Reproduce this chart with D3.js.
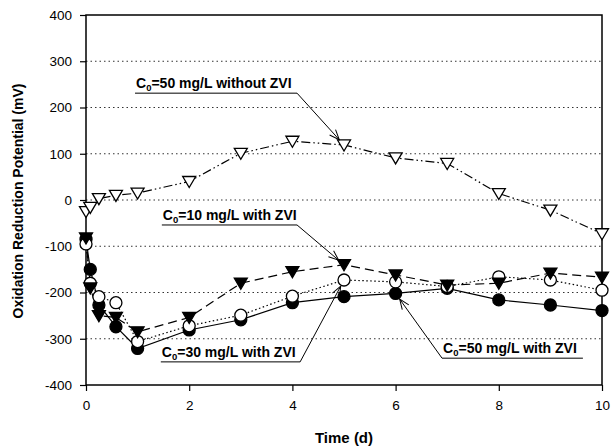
<!DOCTYPE html>
<html>
<head>
<meta charset="utf-8">
<script src="https://cdn.jsdelivr.net/npm/d3@7"></script>
<style>
  body { margin: 0; background: #fff; }
  svg { font-family: "Liberation Sans", Arial, sans-serif; }
</style>
</head>
<body>
<svg id="chart" width="615" height="448"></svg>
<script>
// время отбора проб, сут
const times = [0, 0.083, 0.25, 0.58, 1, 2, 3, 4, 5, 6, 7, 8, 9, 10];

// ОВП, мВ
const noZvi50 = [-25, -16, 3, 10, 15, 40, 101, 127, 119, 91, 79, 14, -22, -73];
const zvi10   = [-82, -190, -250, -254, -285, -254, -180, -155, -140, -162, -184, -180, -158, -167];
const zvi30   = [-95, -180, -209, -222, -306, -272, -249, -208, -173, -177, -187, -166, -173, -195];
const zvi50   = [-85, -150, -227, -274, -321, -281, -259, -222, -209, -202, -191, -216, -227, -239];

const xTicks = [0, 2, 4, 6, 8, 10];
const yTicks = [-400, -300, -200, -100, 0, 100, 200, 300, 400];

// подписи со стрелками: x0..x1 и y - подчеркивание в единицах данных
const notes = [
  {pre: "C", sub: "0", post: "=50 mg/L without ZVI", x0: 0.95, x1: 4.09, y: 231, series: 0, idx: 8, from: "right"},
  {pre: "C", sub: "0", post: "=10 mg/L with ZVI", x0: 1.47, x1: 4.09, y: -54, series: 1, idx: 8, from: "right"},
  {pre: "C", sub: "0", post: "=30 mg/L with ZVI", x0: 1.45, x1: 4.15, y: -350, series: 2, idx: 8, from: "right"},
  {pre: "C", sub: "0", post: "=50 mg/L with ZVI", x0: 6.9, x1: 9.63, y: -342, series: 3, idx: 9, from: "left"}
];

const svg = d3.select("#chart");
const area = {left: 86, right: 602, top: 15, bottom: 385};

const scX = d3.scaleLinear().domain([0, 10]).range([area.left, area.right]);
const scY = d3.scaleLinear().domain([-400, 400]).range([area.bottom, area.top]);

// сетка
svg.append("g")
  .selectAll("line")
  .data(yTicks.filter(d => d > -400 && d < 400))
  .enter()
  .append("line")
  .attr("x1", area.left).attr("x2", area.right)
  .attr("y1", d => scY(d)).attr("y2", d => scY(d))
  .style("stroke", "#333")
  .style("stroke-width", 1)
  .style("stroke-dasharray", "1.5,3");

// оси (обычный дефис, как в оригинале)
const axisX = d3.axisBottom(scX).tickValues(xTicks).tickSize(6).tickPadding(9).tickFormat(d => String(d));
const axisY = d3.axisLeft(scY).tickValues(yTicks).tickSize(6).tickPadding(8).tickFormat(d => String(d));

const gx = svg.append("g").attr("transform", `translate(0, ${area.bottom})`).call(axisX);
const gy = svg.append("g").attr("transform", `translate(${area.left}, 0)`).call(axisY);
[gx, gy].forEach(g => {
  g.select(".domain").remove();
  g.selectAll("line").style("stroke", "#000").style("stroke-width", 1.2);
  g.selectAll("text").style("font-size", "13.5px").style("fill", "#000");
});

// рамка
svg.append("rect")
  .attr("x", area.left).attr("y", area.top)
  .attr("width", area.right - area.left).attr("height", area.bottom - area.top)
  .style("fill", "none").style("stroke", "#000").style("stroke-width", 1.5);

// подписи осей
svg.append("text")
  .attr("x", scX(5)).attr("y", 443)
  .attr("text-anchor", "middle")
  .style("font-size", "15px").style("font-weight", "bold")
  .text("Time (d)");

svg.append("text")
  .attr("transform", "translate(23, 201) rotate(-90)")
  .attr("text-anchor", "middle")
  .style("font-size", "14px").style("font-weight", "bold")
  .text("Oxidation Reduction Potential (mV)");

// серии
const series = [
  {values: noZvi50, dash: "9,3,1.5,3,1.5,3", shape: "triDown", fill: "#fff"},
  {values: zvi10, dash: "9,5", shape: "triDown", fill: "#000"},
  {values: zvi30, dash: "1.5,2.5", shape: "circle", fill: "#fff"},
  {values: zvi50, dash: null, shape: "circle", fill: "#000"}
];

const lineGen = (vals) => d3.line()
  .x((d, i) => scX(times[i]))
  .y(d => scY(d))(vals);

series.forEach(s => {
  svg.append("path")
    .attr("d", lineGen(s.values))
    .style("fill", "none")
    .style("stroke", "#000")
    .style("stroke-width", 1.2)
    .style("stroke-dasharray", s.dash);
});

const triPath = "M-6.5,-5 L6.5,-5 L0,6 Z";
// порядок отрисовки маркеров
[3, 2, 1, 0].forEach(k => {
  const s = series[k];
  const g = svg.append("g");
  if (s.shape == "circle") {
    g.selectAll("circle")
      .data(s.values)
      .enter()
      .append("circle")
      .attr("cx", (d, i) => scX(times[i]))
      .attr("cy", d => scY(d))
      .attr("r", 6)
      .style("fill", s.fill)
      .style("stroke", "#000")
      .style("stroke-width", 1.3);
  } else {
    g.selectAll("path")
      .data(s.values)
      .enter()
      .append("path")
      .attr("d", triPath)
      .attr("transform", (d, i) => `translate(${scX(times[i])}, ${scY(d)})`)
      .style("fill", s.fill)
      .style("stroke", "#000")
      .style("stroke-width", 1.3);
  }
});

// подписи и стрелки
notes.forEach(n => {
  const ux0 = scX(n.x0), ux1 = scX(n.x1), uy = scY(n.y);
  const t = svg.append("text")
    .attr("x", ux0 + 1).attr("y", uy - 5)
    .style("font-size", "14px").style("font-weight", "bold");
  t.append("tspan").text(n.pre);
  t.append("tspan").attr("dy", 3).style("font-size", "9.5px").text(n.sub);
  t.append("tspan").attr("dy", -3).text(n.post);

  svg.append("line")
    .attr("x1", ux0).attr("x2", ux1)
    .attr("y1", uy).attr("y2", uy)
    .style("stroke", "#000").style("stroke-width", 1);

  const sx = n.from == "right" ? ux1 : ux0;
  const tx = scX(times[n.idx]), ty = scY(series[n.series].values[n.idx]);
  const len = Math.hypot(tx - sx, ty - uy);
  const ex = tx - (tx - sx) / len * 7, ey = ty - (ty - uy) / len * 7;
  svg.append("line")
    .attr("x1", sx).attr("y1", uy).attr("x2", ex).attr("y2", ey)
    .style("stroke", "#000").style("stroke-width", 1);
  const ang = Math.atan2(ey - uy, ex - sx) * 180 / Math.PI;
  svg.append("path")
    .attr("d", "M-10,-4 L0,0 L-10,4")
    .attr("transform", `translate(${ex}, ${ey}) rotate(${ang})`)
    .style("fill", "none").style("stroke", "#000").style("stroke-width", 1);
});
</script>
</body>
</html>
